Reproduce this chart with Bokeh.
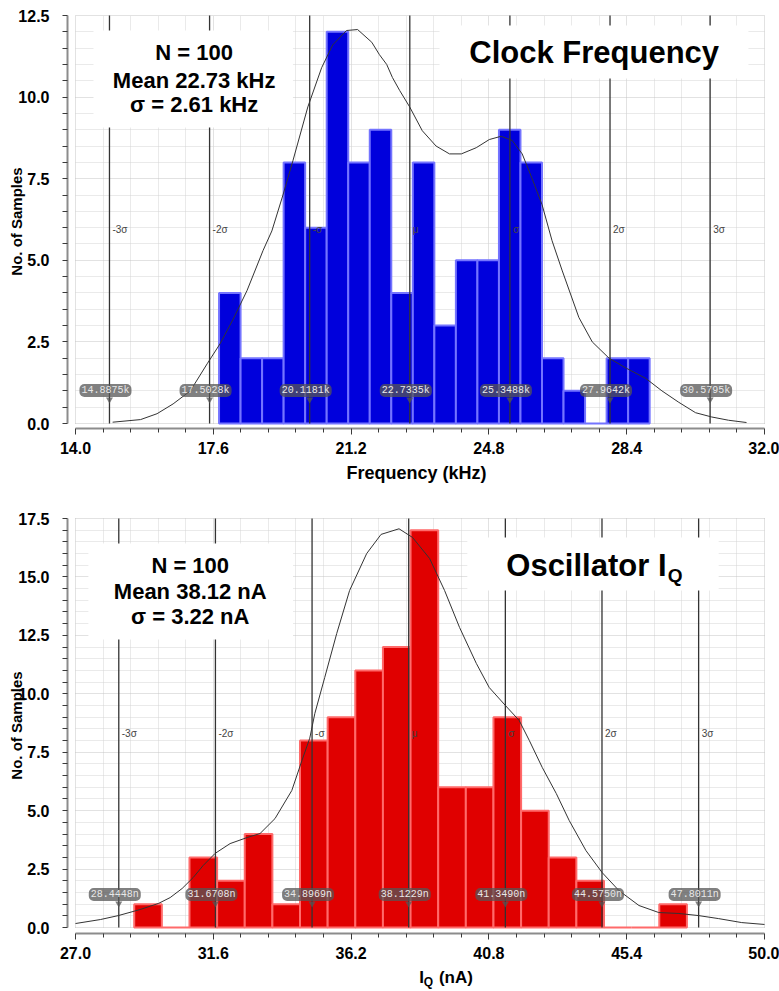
from bokeh.plotting import figure
from bokeh.layouts import column
from bokeh.models import (Range1d, FixedTicker, PrintfTickFormatter, Label,
                          BoxAnnotation)
from bokeh.embed import file_html
from bokeh.resources import INLINE
import numpy as np

# ---------------- data: clock frequency (kHz) ----------------
freq_edges = [17.75, 18.3125, 18.875, 19.4375, 20.0, 20.5625, 21.125, 21.6875,
              22.25, 22.8125, 23.375, 23.9375, 24.5, 25.0625, 25.625, 26.1875,
              26.75, 27.3125, 27.875, 28.4375, 29.0]
freq_counts = [4, 2, 2, 8, 6, 12, 8, 9, 4, 8, 3, 5, 5, 9, 8, 2, 1, 0, 2, 2]
freq_curve_x = [14.97, 15.7, 16.13, 16.55, 17.0, 17.44, 17.78, 18.12, 18.48, 18.9,
                19.13, 19.42, 19.68, 20.07, 20.43, 20.72, 21.08, 21.37, 21.74, 21.94,
                22.13, 22.28, 22.47, 22.73, 23.06, 23.42, 23.77, 24.08, 24.47, 24.81,
                25.12, 25.41, 25.67, 25.93, 26.19, 26.45, 26.71, 27.15, 27.5, 27.94,
                28.38, 28.9, 29.32, 29.76, 30.2, 30.62, 31.06, 31.53]
freq_curve_y = [0.04, 0.12, 0.3, 0.6, 1.0, 1.83, 2.45, 3.2, 4.07, 5.3,
                5.9, 7.0, 8.05, 9.7, 10.9, 11.6, 12.04, 12.07, 11.68, 11.3,
                11.0, 10.6, 10.2, 9.7, 8.97, 8.5, 8.26, 8.26, 8.45, 8.7,
                8.8, 8.67, 8.26, 7.5, 6.7, 5.6, 4.7, 3.25, 2.5, 2.0,
                1.7, 1.38, 1.0, 0.65, 0.33, 0.2, 0.1, 0.03]
freq_sigma = [14.8875, 17.5028, 20.1181, 22.7335, 25.3488, 27.9642, 30.5795]
freq_xticks = [14.0, 17.6, 21.2, 24.8, 28.4, 32.0]
freq_yticks = [0.0, 2.5, 5.0, 7.5, 10.0, 12.5]
freq_stats = ["N = 100", "Mean 22.73 kHz", "\u03c3 = 2.61 kHz"]

# ---------------- data: oscillator quiescent current (nA) ----------------
iq_edges = [28.96, 29.8825, 30.805, 31.7275, 32.65, 33.5725, 34.495, 35.4175,
            36.34, 37.2625, 38.185, 39.1075, 40.03, 40.9525, 41.875, 42.7975,
            43.72, 44.6425, 45.565, 46.4875, 47.41]
iq_counts = [1, 0, 3, 2, 4, 1, 8, 9, 11, 12, 17, 6, 6, 9, 5, 3, 2, 0, 0, 1]
iq_curve_x = [27.0, 27.83, 28.43, 29.16, 29.77, 30.16, 30.56, 30.93, 31.26, 31.66,
              32.16, 32.73, 33.16, 33.66, 34.22, 34.56, 34.82, 34.99, 35.32, 35.72,
              36.15, 36.72, 37.2, 37.8, 38.25, 38.82, 39.32, 39.82, 40.38, 40.81,
              41.35, 41.81, 42.15, 42.58, 43.05, 43.48, 44.04, 44.58, 45.14, 45.81,
              46.47, 47.14, 47.8, 48.47, 49.24, 50.0]
iq_curve_y = [0.17, 0.34, 0.51, 0.77, 1.03, 1.28, 1.67, 2.14, 2.65, 3.17,
              3.59, 3.85, 4.02, 4.66, 5.86, 7.15, 8.1, 9.16, 10.7, 12.58,
              14.42, 16.0, 16.82, 17.06, 16.69, 15.79, 14.42, 12.84, 11.3, 10.27,
              9.5, 8.86, 8.0, 6.85, 5.73, 4.58, 3.29, 2.35, 1.58, 0.94,
              0.64, 0.6, 0.51, 0.38, 0.21, 0.13]
iq_sigma = [28.4448, 31.6708, 34.8969, 38.1229, 41.3490, 44.5750, 47.8011]
iq_xticks = [27.0, 31.6, 36.2, 40.8, 45.4, 50.0]
iq_yticks = [0.0, 2.5, 5.0, 7.5, 10.0, 12.5, 15.0, 17.5]
iq_stats = ["N = 100", "Mean 38.12 nA", "\u03c3 = 3.22 nA"]

sigma_names = ["-3\u03c3", "-2\u03c3", "-\u03c3", "\u03bc", "\u03c3", "2\u03c3", "3\u03c3"]

SANS = "Liberation Sans"
NARROW = "Liberation Sans Narrow, Liberation Sans"
WIDTH = 779
BORDER_L = 67
FRAME_W = 698


def minor_between(major, n=5):
    out = []
    for a, b in zip(major[:-1], major[1:]):
        out.extend(np.linspace(a, b, n + 1)[1:-1].tolist())
    return out


def histogram_panel(edges, counts, cx, cy, sigma, unit, xticks, yticks,
                    gap_left_px, gap_bottom_px, frame_h, borders,
                    bar_fill, bar_line):
    x0, x1 = xticks[0], xticks[-1]
    y0, y1 = yticks[0], yticks[-1]
    px_x = (FRAME_W - gap_left_px - 1) / (x1 - x0)
    px_y = (frame_h - gap_bottom_px - 1) / (y1 - y0)
    top_b, bottom_b = borders
    xr = Range1d(x0 - gap_left_px / px_x, x1 + 1 / px_x)
    p = figure(x_range=xr,
               y_range=Range1d(y0 - gap_bottom_px / px_y, y1 + 1 / px_y),
               frame_width=FRAME_W, frame_height=frame_h,
               min_border_left=BORDER_L, min_border_right=WIDTH - BORDER_L - FRAME_W,
               min_border_top=top_b, min_border_bottom=bottom_b,
               output_backend="svg", toolbar_location=None, tools="",
               background_fill_color="white", border_fill_color="white",
               outline_line_color=None)

    # axes, set slightly apart from the plotting area
    xmin = minor_between(xticks)
    ymin = minor_between(yticks)
    p.xaxis.ticker = FixedTicker(ticks=xticks, minor_ticks=xmin)
    p.yaxis.ticker = FixedTicker(ticks=yticks, minor_ticks=ymin)
    p.xaxis.bounds = (x0, x1)
    p.yaxis.bounds = (y0, y1)
    for ax in (p.xaxis[0], p.yaxis[0]):
        ax.formatter = PrintfTickFormatter(format="%.1f")
        ax.axis_line_color = "#8c8c8c"
        ax.axis_line_width = 2
        ax.major_tick_line_color = "#3a3a3a"
        ax.minor_tick_line_color = "#3a3a3a"
        ax.major_tick_in = 0
        ax.minor_tick_in = 0
        ax.major_label_text_font = NARROW
        ax.major_label_text_font_style = "bold"
        ax.major_label_text_font_size = "16px"
        ax.major_label_text_color = "black"
        ax.axis_label_text_font_style = "bold"
        ax.axis_label_text_color = "black"
    p.xaxis.major_tick_out = 6
    p.xaxis.minor_tick_out = 4
    p.yaxis.major_tick_out = 5
    p.yaxis.minor_tick_out = 5
    p.xaxis.major_label_standoff = 7
    p.yaxis.major_label_standoff = 13
    p.yaxis.axis_label = "No. of Samples"
    p.yaxis.axis_label_text_font = NARROW
    p.yaxis.axis_label_text_font_size = "15px"
    p.yaxis.axis_label_standoff = -10

    # dotted grid at every minor step
    for g, t, cb in ((p.xgrid[0], FixedTicker(ticks=xticks, minor_ticks=xmin), (y0, y1)),
                     (p.ygrid[0], FixedTicker(ticks=yticks, minor_ticks=ymin), (x0, x1))):
        g.ticker = t
        g.cross_bounds = cb
        g.grid_line_color = "#c4c4c4"
        g.grid_line_dash = "1 1"
        g.minor_grid_line_color = "#d4d4d4"
        g.minor_grid_line_dash = "1 1"

    # histogram bars
    p.quad(left=edges[:-1], right=edges[1:], bottom=0, top=counts,
           fill_color=bar_fill, line_color=bar_line, line_width=2)
    # distribution curve
    p.line(cx, cy, line_color="#333333", line_width=1)
    # sigma markers
    p.segment(x0=sigma, y0=y0, x1=sigma, y1=y1, line_color="#333333", line_width=1.3)

    name_y = y0 + 194 / px_y
    for s, nm in zip(sigma, sigma_names):
        p.add_layout(Label(x=s, y=name_y, text=nm, x_offset=3, text_font=SANS,
                           text_font_size="10px", text_color="#444444",
                           text_baseline="middle"))

    tag_y = y0 + 33 / px_y
    p.scatter(x=sigma, y=[tag_y - 9 / px_y] * len(sigma), marker="inverted_triangle",
              size=7, fill_color="#555555", fill_alpha=0.75, line_color=None)
    for s in sigma:
        p.add_layout(Label(x=s, y=tag_y, text=f"{s:.4f}{unit}", x_offset=-4,
                           text_align="center", text_baseline="middle",
                           text_font="Liberation Mono", text_font_size="10px",
                           text_color="#e8e8e8", background_fill_color="#555555",
                           background_fill_alpha=0.75, border_radius=5,
                           padding=(2, 1)))
    return p, xr, px_x


def white_box(p, left, right, bottom, top):
    p.add_layout(BoxAnnotation(left=left, right=right, bottom=bottom, top=top,
                               fill_color="white", fill_alpha=1.0,
                               line_color=None))


def text(p, x, y, s, size, align="center", **kw):
    p.add_layout(Label(x=x, y=y, text=s, text_font=SANS, text_font_style="bold",
                       text_font_size=size, text_color="black", text_align=align,
                       text_baseline="middle", **kw))


# ---------------- top: clock frequency ----------------
p1, _, _ = histogram_panel(freq_edges, freq_counts, freq_curve_x, freq_curve_y,
                           freq_sigma, "k", freq_xticks, freq_yticks,
                           gap_left_px=8, gap_bottom_px=5, frame_h=414,
                           borders=(14, 67), bar_fill="#0000dc", bar_line="#7474ff")
p1.xaxis.axis_label = "Frequency (kHz)"
p1.xaxis.axis_label_text_font = SANS
p1.xaxis.axis_label_text_font_size = "18px"
p1.xaxis.axis_label_standoff = 6

white_box(p1, 14.47, 19.68, 9.07, 12.04)
for s, yy in zip(freq_stats, [11.36, 10.52, 9.77]):
    text(p1, 17.10, yy, s, "22px")
white_box(p1, 23.51, 31.58, 10.57, 12.19)
text(p1, 27.55, 11.37, "Clock Frequency", "31px")

# ---------------- bottom: oscillator IQ ----------------
p2, xr2, px2 = histogram_panel(iq_edges, iq_counts, iq_curve_x, iq_curve_y,
                               iq_sigma, "n", iq_xticks, iq_yticks,
                               gap_left_px=8, gap_bottom_px=6, frame_h=416,
                               borders=(22, 33), bar_fill="#e00000", bar_line="#ff6a6a")

white_box(p2, 27.43, 34.26, 12.32, 16.43)
for s, yy in zip(iq_stats, [15.51, 14.38, 13.31]):
    text(p2, 30.83, yy, s, "22px")
white_box(p2, 40.08, 48.47, 14.42, 16.69)
text(p2, 41.38, 15.51, "Oscillator I", "31px", align="left")
text(p2, 46.77, 15.51, "Q", "19px", align="left", y_offset=-10)

# x-axis title of the lower chart (with subscript) on a strip of its own
strip_h = 991 - 495 - (22 + 416 + 33)
strip = figure(width=WIDTH, height=strip_h, x_range=Range1d(0, WIDTH),
               y_range=Range1d(0, strip_h), x_axis_type=None, y_axis_type=None,
               min_border=0, output_backend="svg", toolbar_location=None,
               tools="", outline_line_color=None, background_fill_color="white",
               border_fill_color="white")
axis_mid = BORDER_L + (sum(iq_xticks[::len(iq_xticks) - 1]) / 2 - xr2.start) * px2
text(strip, axis_mid - 27, 14.5, "I", "17px", align="left")
text(strip, axis_mid - 22, 9.5, "Q", "12px", align="left")
text(strip, axis_mid - 5, 14.5, "(nA)", "17px", align="left")

layout = column(p1, p2, strip)
open("out.html", "w").write(file_html(layout, INLINE))
